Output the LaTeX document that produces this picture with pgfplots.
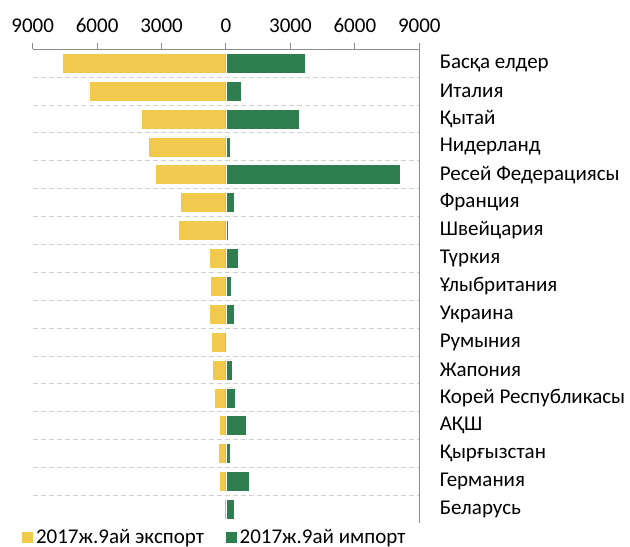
\documentclass[border=0pt]{standalone}
\usepackage{pgfplots}
\pgfplotsset{compat=1.18}
\usepackage{fontspec}
\setmainfont{Carlito}
\definecolor{expc}{HTML}{F0C94D}
\definecolor{impc}{HTML}{2F7E4F}
\definecolor{axgray}{HTML}{8C8C8C}
\definecolor{gridgray}{HTML}{D0D0D0}
\begin{document}
\begin{tikzpicture}
\begin{axis}[
  scale only axis, width=386.6bp, height=474bp,
  xmin=-9000, xmax=9000, ymin=-0.5, ymax=16.5, y dir=reverse,
  enlargelimits=false,
  xbar, bar shift=0pt, bar width=20bp,
  axis x line*=top, axis y line*=right,
  axis line style={axgray, line width=1bp},
  tick align=outside,
  xtick={-9000,-6000,-3000,0,3000,6000,9000},
  xticklabels={9000,6000,3000,0,3000,6000,9000},
  major tick length=6bp,
  xtick style={axgray, line width=1bp},
  ytick={0,...,16},
  yticklabels={Басқа елдер, Италия, Қытай, Нидерланд, Ресей Федерациясы, Франция, Швейцария, Түркия, Ұлыбритания, Украина, Румыния, Жапония, Корей Республикасы, АҚШ, Қырғызстан, Германия, Беларусь},
  ytick style={draw=none},
  minor ytick={0.5,1.5,...,15.5},
  minor tick length=0pt,
  yminorgrids=true,
  minor grid style={gridgray, line width=1bp, dash pattern=on 5bp off 3bp},
  /pgf/number format/assume math mode=true,
  tick label style={font=\fontsize{21bp}{25bp}\selectfont, black},
  xticklabel style={yshift=7bp},
  yticklabel style={anchor=west, xshift=11bp},
  legend columns=2,
  legend style={at={(-0.031,-0.029)}, anchor=west, draw=none, fill=none, inner sep=0pt,
    font=\fontsize{21bp}{25bp}\selectfont,
    nodes={inner sep=2.5bp},
    /tikz/every even column/.append style={column sep=18bp}},
  legend image code/.code={\fill[#1] (0bp,-6bp) rectangle (12bp,6bp);},
]
\addplot[fill=expc, draw=white, line width=0.6bp] coordinates {
(-7630,0) (-6380,1) (-3960,2) (-3600,3) (-3270,4) (-2120,5) (-2230,6) (-760,7) (-710,8) (-760,9) (-670,10) (-630,11) (-530,12) (-290,13) (-340,14) (-290,15) (-60,16)};
\addplot[fill=impc, draw=white, line width=0.6bp] coordinates {
(3680,0) (700,1) (3420,2) (200,3) (8100,4) (400,5) (110,6) (560,7) (270,8) (370,9) (80,10) (300,11) (440,12) (960,13) (200,14) (1100,15) (390,16)};
\legend{2017ж.9ай экспорт, 2017ж.9ай импорт}
\end{axis}
\pgfresetboundingbox
\path (-32.7bp,-23.7bp) rectangle (597.3bp,523.3bp);
\end{tikzpicture}
\end{document}
